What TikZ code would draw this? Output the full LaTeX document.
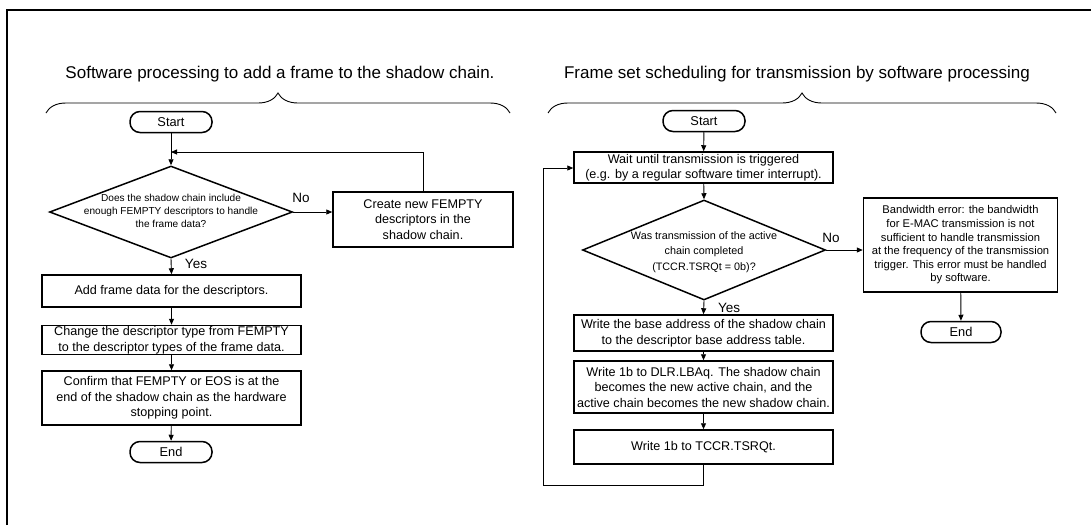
\documentclass[tikz,border=0pt]{standalone}
\usepackage{fontspec}
\setmainfont{Liberation Sans}
\usetikzlibrary{arrows.meta,shapes.geometric,decorations.pathreplacing}
\tikzset{
  boxline/.style={draw,line width=1.5pt,inner sep=0pt,align=center},
  procbox/.style={boxline,rectangle,font=\fontsize{12.6}{15.5}\selectfont},
  termbox/.style={draw,line width=1.5pt,rectangle,rounded corners=10pt,minimum width=82pt,minimum height=21pt,inner sep=0pt,font=\fontsize{12.8}{15}\selectfont},
  decbox/.style={draw,line width=1.5pt,diamond,inner sep=0pt},
  dectext/.style={align=center,inner sep=0pt},
  arr/.style={line width=0.9pt,-{Triangle[length=6pt,width=5pt]}},
  conn/.style={line width=0.9pt},
  lbl/.style={font=\fontsize{13.5}{15}\selectfont,inner sep=0pt},
  ttl/.style={font=\fontsize{17}{20}\selectfont,inner sep=0pt},
  brc/.style={line width=0.9pt,decorate,decoration={brace,amplitude=20pt}}
}
\begin{document}
\begin{tikzpicture}[x=1pt,y=-1pt]
\useasboundingbox (0,0) rectangle (1091,525);
\draw[line width=2.6pt] (7,525) -- (7,10) -- (1091,10);
% titles and braces
\node[ttl] (t1) at (280,74) {Software processing to add a frame to the shadow chain.};
\node[ttl] (t2) at (797,74) {Frame set scheduling for transmission by software processing};
\draw[brc] (46,113) -- (510,113);
\draw[brc] (548,113) -- (1056,113);
% left flow
\node[termbox] (s1) at (171,122) {Start};
\node[decbox,minimum width=243pt,minimum height=92pt] (d1) at (171,212) {};
\node[dectext,font=\fontsize{10.1}{13}\selectfont] (d1t) at (171,211) {Does the shadow chain include\\enough FEMPTY descriptors to handle\\the frame data?};
\node[procbox,minimum width=180pt,minimum height=55pt] (c1) at (423,219.5) {Create new FEMPTY\\descriptors in the\\shadow chain.};
\node[procbox,minimum width=259pt,minimum height=32pt] (b1) at (171.5,291) {Add frame data for the descriptors.};
\node[procbox,minimum width=259pt,minimum height=29pt] (b2) at (171.5,340) {Change the descriptor type from FEMPTY\\to the descriptor types of the frame data.};
\node[procbox,minimum width=259pt,minimum height=54pt] (b3) at (171.5,398) {Confirm that FEMPTY or EOS is at the\\end of the shadow chain as the hardware\\stopping point.};
\node[termbox] (e1) at (171,452) {End};
\node[lbl] (no1) at (301,198) {No};
\node[lbl] (yes1) at (196,264) {Yes};
\coordinate (j1) at (171,152);
\draw[arr] (s1) -- (d1.north);
\draw[arr] (c1.north) |- (j1);
\draw[arr] (d1.east) -- (d1.east -| c1.west);
\draw[arr] (d1.south) -- (b1.north);
\draw[arr] (b1) -- (b2);
\draw[arr] (b2) -- (b3);
\draw[arr] (b3) -- (e1);
% right flow
\node[termbox] (s2) at (704,121) {Start};
\node[procbox,minimum width=259pt,minimum height=31pt] (w) at (703.5,167.5) {Wait until transmission is triggered\\(e.g. by a regular software timer interrupt).};
\node[decbox,minimum width=243pt,minimum height=100pt] (d2) at (704,250) {};
\node[dectext,font=\fontsize{10.8}{15.5}\selectfont] (d2t) at (704,252) {Was transmission of the active\\chain completed\\(TCCR.TSRQt = 0b)?};
\node[procbox,font=\fontsize{11.2}{13.6}\selectfont,minimum width=194pt,minimum height=94pt] (bw) at (960.5,245) {Bandwidth error: the bandwidth\\for E-MAC transmission is not\\sufficient to handle transmission\\at the frequency of the transmission\\trigger. This error must be handled\\by software.};
\node[termbox,minimum width=80pt] (e2) at (961,332) {End};
\node[procbox,minimum width=259pt,minimum height=36pt] (b4) at (703.5,333) {Write the base address of the shadow chain\\to the descriptor base address table.};
\node[procbox,minimum width=259pt,minimum height=52pt] (b5) at (703.5,387) {Write 1b to DLR.LBAq. The shadow chain\\becomes the new active chain, and the\\active chain becomes the new shadow chain.};
\node[procbox,minimum width=259pt,minimum height=34pt] (b6) at (703.5,447) {Write 1b to TCCR.TSRQt.};
\node[lbl] (no2) at (831,238) {No};
\node[lbl] (yes2) at (729,308) {Yes};
\coordinate (lpA) at (543,485);
\coordinate (lpB) at (543,168);
\draw[arr] (s2) -- (w);
\draw[arr] (w) -- (d2.north);
\draw[arr] (d2.east) -- (d2.east -| bw.west);
\draw[arr] (bw) -- (e2);
\draw[arr] (d2.south) -- (b4.north);
\draw[arr] (b4) -- (b5);
\draw[arr] (b5) -- (b6);
\draw[arr] (b6.south) |- (lpA) |- (w.west |- lpB);
\end{tikzpicture}
\end{document}
